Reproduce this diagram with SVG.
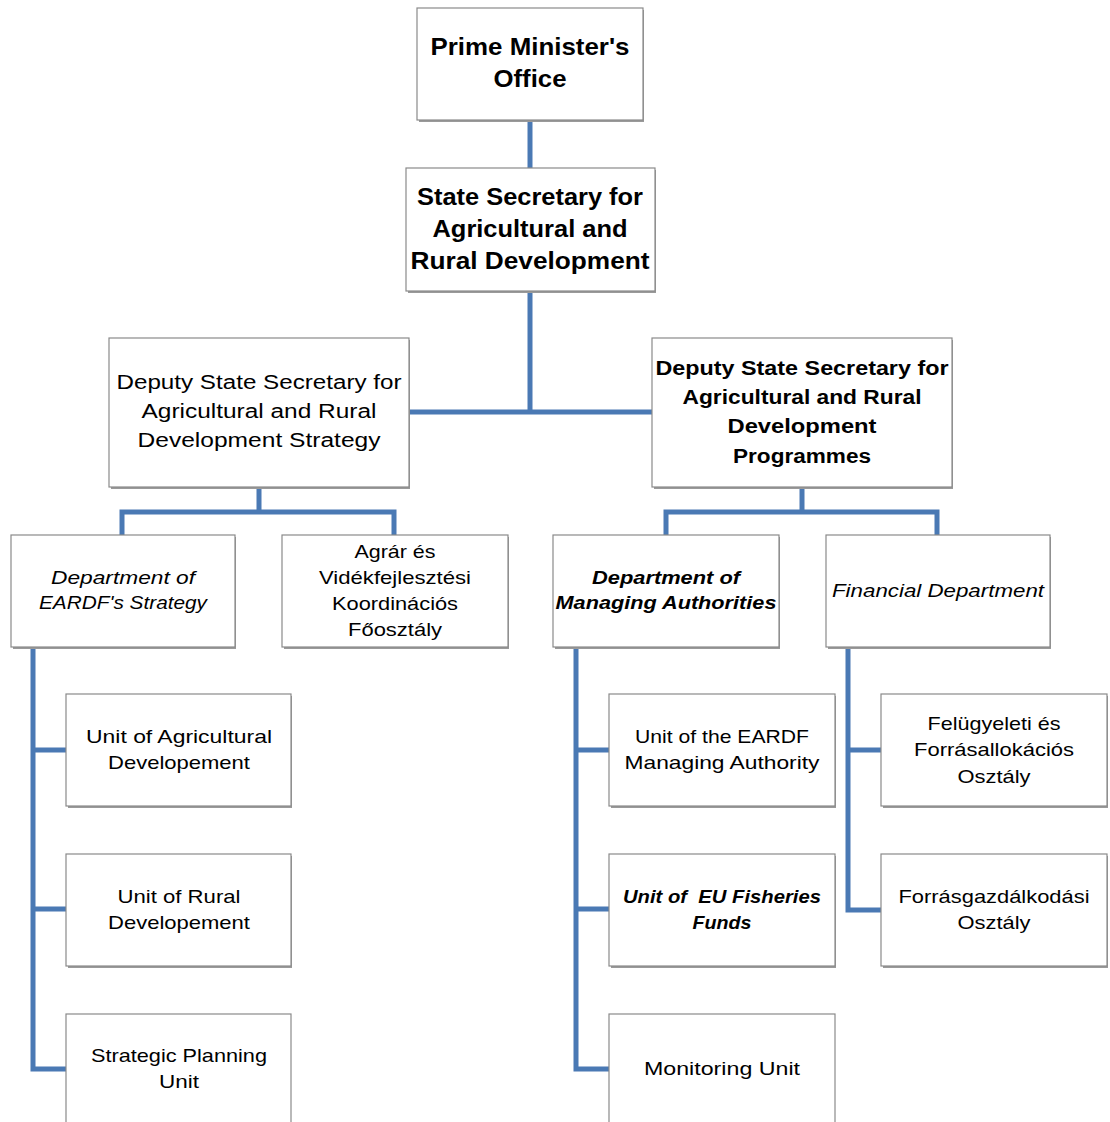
<svg xmlns="http://www.w3.org/2000/svg" width="1110" height="1122" viewBox="0 0 1110 1122">
<style>
.box{fill:#ffffff;stroke:#8a8a8a;stroke-width:1.2}
.sh{fill:#9a9a9a}
.con{fill:none;stroke:#4A79B4;stroke-width:5;stroke-linejoin:miter}
text{font-family:"Liberation Sans",Arial,sans-serif;fill:#000;text-anchor:middle}
.t1{font-size:24px;font-weight:bold}
.t2{font-size:20px;font-weight:bold}
.r2{font-size:20px}
.r3{font-size:19px}
.i3{font-size:19px;font-style:italic}
.bi3{font-size:19px;font-style:italic;font-weight:bold}
</style>
<rect width="1110" height="1122" fill="#ffffff"/>
<g id="connectors">
<path class="con" d="M530,120 V168"/>
<path class="con" d="M530,291 V412 M409,412 H652"/>
<path class="con" d="M259,487 V512 M122,535 V512 H394 V535"/>
<path class="con" d="M802,487 V512 M666,535 V512 H937 V535"/>
<path class="con" d="M33,647 V1069 H66 M33,750 H66 M33,909 H66"/>
<path class="con" d="M576,647 V1069 H609 M576,750 H609 M576,909 H609"/>
<path class="con" d="M848,647 V910 H881 M848,750 H881"/>
</g>
<g id="n-pmo">
<rect class="sh" x="419" y="10" width="225" height="112"/>
<rect class="box" x="417" y="8" width="226" height="112"/>
<text class="t1" x="530" y="55" textLength="199" lengthAdjust="spacingAndGlyphs">Prime Minister's</text>
<text class="t1" x="530" y="87" textLength="73" lengthAdjust="spacingAndGlyphs">Office</text>
</g>
<g id="n-ss">
<rect class="sh" x="408" y="170" width="248" height="123"/>
<rect class="box" x="406" y="168" width="249" height="123"/>
<text class="t1" x="530" y="205" textLength="226" lengthAdjust="spacingAndGlyphs">State Secretary for</text>
<text class="t1" x="530" y="237" textLength="195" lengthAdjust="spacingAndGlyphs">Agricultural and</text>
<text class="t1" x="530" y="269" textLength="239" lengthAdjust="spacingAndGlyphs">Rural Development</text>
</g>
<g id="n-dss-strategy">
<rect class="sh" x="111" y="340" width="299" height="149"/>
<rect class="box" x="109" y="338" width="300" height="149"/>
<text class="r2" x="259" y="389" textLength="285" lengthAdjust="spacingAndGlyphs">Deputy State Secretary for</text>
<text class="r2" x="259" y="418" textLength="235" lengthAdjust="spacingAndGlyphs">Agricultural and Rural</text>
<text class="r2" x="259" y="447" textLength="243" lengthAdjust="spacingAndGlyphs">Development Strategy</text>
</g>
<g id="n-dss-programmes">
<rect class="sh" x="654" y="340" width="299" height="149"/>
<rect class="box" x="652" y="338" width="300" height="149"/>
<text class="t2" x="802" y="375" textLength="293" lengthAdjust="spacingAndGlyphs">Deputy State Secretary for</text>
<text class="t2" x="802" y="404" textLength="239" lengthAdjust="spacingAndGlyphs">Agricultural and Rural</text>
<text class="t2" x="802" y="433" textLength="149" lengthAdjust="spacingAndGlyphs">Development</text>
<text class="t2" x="802" y="463" textLength="138" lengthAdjust="spacingAndGlyphs">Programmes</text>
</g>
<g id="n-eardf-strategy">
<rect class="sh" x="13" y="537" width="223" height="112"/>
<rect class="box" x="11" y="535" width="224" height="112"/>
<text class="i3" x="123" y="584" textLength="144" lengthAdjust="spacingAndGlyphs">Department of</text>
<text class="i3" x="123" y="609" textLength="168" lengthAdjust="spacingAndGlyphs">EARDF's Strategy</text>
</g>
<g id="n-agrar">
<rect class="sh" x="284" y="537" width="225" height="112"/>
<rect class="box" x="282" y="535" width="226" height="112"/>
<text class="r3" x="395" y="558" textLength="81" lengthAdjust="spacingAndGlyphs">Agrár és</text>
<text class="r3" x="395" y="584" textLength="152" lengthAdjust="spacingAndGlyphs">Vidékfejlesztési</text>
<text class="r3" x="395" y="610" textLength="126" lengthAdjust="spacingAndGlyphs">Koordinációs</text>
<text class="r3" x="395" y="636" textLength="94" lengthAdjust="spacingAndGlyphs">Főosztály</text>
</g>
<g id="n-managing">
<rect class="sh" x="555" y="537" width="225" height="112"/>
<rect class="box" x="553" y="535" width="226" height="112"/>
<text class="bi3" x="666" y="584" textLength="148" lengthAdjust="spacingAndGlyphs">Department of</text>
<text class="bi3" x="666" y="609" textLength="221" lengthAdjust="spacingAndGlyphs">Managing Authorities</text>
</g>
<g id="n-financial">
<rect class="sh" x="828" y="537" width="223" height="112"/>
<rect class="box" x="826" y="535" width="224" height="112"/>
<text class="i3" x="938" y="597" textLength="212" lengthAdjust="spacingAndGlyphs">Financial Department</text>
</g>
<g id="n-unit-agri">
<rect class="sh" x="68" y="696" width="224" height="112"/>
<rect class="box" x="66" y="694" width="225" height="112"/>
<text class="r3" x="179" y="743" textLength="186" lengthAdjust="spacingAndGlyphs">Unit of Agricultural</text>
<text class="r3" x="179" y="769" textLength="142" lengthAdjust="spacingAndGlyphs">Developement</text>
</g>
<g id="n-unit-rural">
<rect class="sh" x="68" y="856" width="224" height="112"/>
<rect class="box" x="66" y="854" width="225" height="112"/>
<text class="r3" x="179" y="903" textLength="123" lengthAdjust="spacingAndGlyphs">Unit of Rural</text>
<text class="r3" x="179" y="929" textLength="142" lengthAdjust="spacingAndGlyphs">Developement</text>
</g>
<g id="n-strategic">
<rect class="box" x="66" y="1014" width="225" height="120"/>
<text class="r3" x="179" y="1062" textLength="176" lengthAdjust="spacingAndGlyphs">Strategic Planning</text>
<text class="r3" x="179" y="1088" textLength="40" lengthAdjust="spacingAndGlyphs">Unit</text>
</g>
<g id="n-unit-eardf-ma">
<rect class="sh" x="611" y="696" width="225" height="112"/>
<rect class="box" x="609" y="694" width="226" height="112"/>
<text class="r3" x="722" y="743" textLength="174" lengthAdjust="spacingAndGlyphs">Unit of the EARDF</text>
<text class="r3" x="722" y="769" textLength="195" lengthAdjust="spacingAndGlyphs">Managing Authority</text>
</g>
<g id="n-unit-fisheries">
<rect class="sh" x="611" y="856" width="225" height="112"/>
<rect class="box" x="609" y="854" width="226" height="112"/>
<text class="bi3" x="722" y="903" textLength="198" lengthAdjust="spacingAndGlyphs" xml:space="preserve">Unit of  EU Fisheries</text>
<text class="bi3" x="722" y="929" textLength="59" lengthAdjust="spacingAndGlyphs">Funds</text>
</g>
<g id="n-monitoring">
<rect class="box" x="609" y="1014" width="226" height="120"/>
<text class="r3" x="722" y="1075" textLength="156" lengthAdjust="spacingAndGlyphs">Monitoring Unit</text>
</g>
<g id="n-felugyeleti">
<rect class="sh" x="883" y="696" width="225" height="112"/>
<rect class="box" x="881" y="694" width="226" height="112"/>
<text class="r3" x="994" y="730" textLength="133" lengthAdjust="spacingAndGlyphs">Felügyeleti és</text>
<text class="r3" x="994" y="756" textLength="160" lengthAdjust="spacingAndGlyphs">Forrásallokációs</text>
<text class="r3" x="994" y="783" textLength="73" lengthAdjust="spacingAndGlyphs">Osztály</text>
</g>
<g id="n-forrasgazd">
<rect class="sh" x="883" y="856" width="225" height="112"/>
<rect class="box" x="881" y="854" width="226" height="112"/>
<text class="r3" x="994" y="903" textLength="191" lengthAdjust="spacingAndGlyphs">Forrásgazdálkodási</text>
<text class="r3" x="994" y="929" textLength="73" lengthAdjust="spacingAndGlyphs">Osztály</text>
</g>
</svg>
